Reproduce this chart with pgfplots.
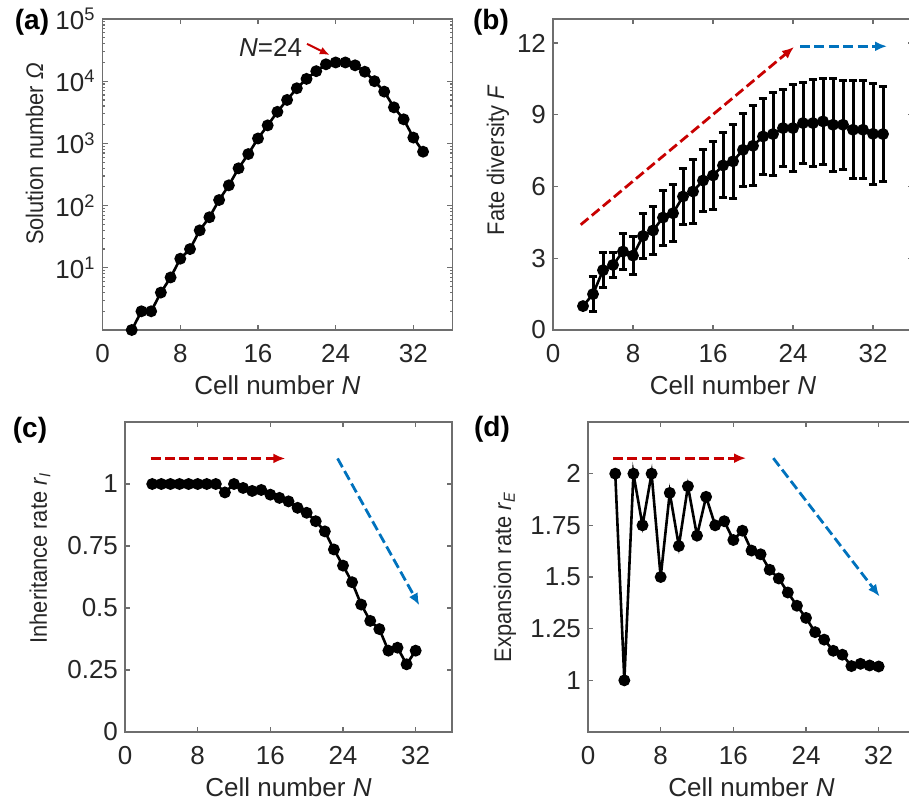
\documentclass[border=0pt]{standalone}
\usepackage{fontspec}
\setmainfont{Liberation Sans}
\usepackage{graphicx}
\usepackage{pgfplots}
\pgfplotsset{compat=1.18}
\usetikzlibrary{arrows.meta}

\definecolor{arrred}{RGB}{200,0,0}
\definecolor{arrblue}{RGB}{0,114,189}
\definecolor{axgray}{RGB}{110,110,110}
\definecolor{txtgray}{RGB}{38,38,38}

\newcommand{\ylab}[1]{\scalebox{0.91}[1]{#1}}

\pgfplotsset{
  panel/.style={
    scale only axis,
    xmin=0, xmax=36,
    xtick={0,8,16,24,32},
    tick align=inside,
    major tick length=2.5pt,
    minor tick length=1.3pt,
    axis line style={axgray, line width=0.6pt},
    every tick/.style={axgray, line width=0.6pt},
    tick label style={txtgray, font=\fontsize{13}{15}\selectfont},
    xlabel style={txtgray, font=\fontsize{13}{15}\selectfont},
    ylabel style={txtgray, font=\fontsize{12}{14}\selectfont},
    /pgf/number format/assume math mode=true,
    xlabel={Cell number \textit{N}},
    xlabel style={at={(axis description cs:0.5,0)}, anchor=base, yshift=-32pt},
    xticklabel style={anchor=base, yshift=-16.3pt},
    clip=false,
  },
  data/.style={black, line width=1.3pt, mark=*, mark size=2.3pt,
    mark options={solid, fill=black}},
  dash arrow/.style={line width=1.4pt, dash pattern=on 5pt off 2.2pt,
    -{Latex[length=6pt,width=5pt]}},
  every error bar/.append style={line width=1.5pt, black},
}

\begin{document}
\begin{tikzpicture}
\useasboundingbox (0,0) rectangle (454.5pt,-401pt);

% (a) solution number
\begin{axis}[panel,
  at={(51.3pt,-165pt)}, anchor=south west,
  width=174.8pt, height=155.5pt,
  ymode=log, ymin=1, ymax=100000,
  ytick={10,100,1000,10000,100000},
  yticklabels={10\textsuperscript{1},10\textsuperscript{2},10\textsuperscript{3},10\textsuperscript{4},10\textsuperscript{5}},
  minor ytick={2,3,4,5,6,7,8,9,20,30,40,50,60,70,80,90,200,300,400,500,600,700,800,900,2000,3000,4000,5000,6000,7000,8000,9000,20000,30000,40000,50000,60000,70000,80000,90000},
  ylabel={\ylab{Solution number \textit{Ω}}},
  ylabel style={at={(axis description cs:-0.195,0.566)}, anchor=center},
]
\addplot[data] coordinates {
(3,1) (4,2) (5,2) (6,4) (7,7) (8,14) (9,20) (10,40) (11,65) (12,123)
(13,212) (14,398) (15,674) (16,1200) (17,1950) (18,3220) (19,5000) (20,7700)
(21,10900) (22,14500) (23,18700) (24,20000) (25,20000) (26,18000) (27,14200)
(28,10000) (29,6800) (30,3800) (31,2440) (32,1240) (33,735)
};
\addplot[arrred, line width=1pt, -{Latex[length=5pt,width=4pt]}] coordinates {(21.05,39800) (23.4,26300)};
\node[txtgray, font=\fontsize{13}{15}\selectfont] at (axis cs:17.3,35500) {\textit{N}=24};
\end{axis}

% (b) fate diversity
\begin{axis}[panel,
  at={(276.5pt,-165pt)}, anchor=south west,
  width=180pt, height=155.5pt,
  ymin=0, ymax=13,
  ytick={0,3,6,9,12},
  ylabel={\ylab{Fate diversity \textit{F}}},
  ylabel style={at={(axis description cs:-0.153,0.547)}, anchor=center},
]
\addplot[arrred, dash arrow] coordinates {(2.77,4.4) (24.1,11.83)};
\addplot[arrblue, dash arrow] coordinates {(24.7,11.86) (33.4,11.86)};
\addplot[data, error bars/.cd, y dir=both, y explicit,
  error bar style={line width=1.5pt, black},
  error mark options={rotate=90, mark size=2.2pt, line width=1.5pt, black}]
  table[x=N, y=F, y error=E] {
N F E
3 1.0 0
4 1.5 0.73
5 2.5 0.72
6 2.72 0.52
7 3.28 0.77
8 3.11 0.78
9 3.93 0.94
10 4.16 1.0
11 4.70 1.15
12 4.88 1.2
13 5.58 1.17
14 5.79 1.35
15 6.25 1.29
16 6.46 1.42
17 6.88 1.36
18 7.05 1.55
19 7.53 1.52
20 7.70 1.67
21 8.09 1.57
22 8.19 1.72
23 8.44 1.6
24 8.44 1.81
25 8.65 1.69
26 8.65 1.83
27 8.72 1.79
28 8.58 1.94
29 8.58 1.87
30 8.37 2.05
31 8.37 2.05
32 8.20 2.1
33 8.19 2.0
};
\end{axis}

% (c) inheritance rate
\begin{axis}[panel,
  at={(62.5pt,-366pt)}, anchor=south west,
  width=163.5pt, height=155pt,
  ymin=0, ymax=1.25,
  ytick={0,0.25,0.5,0.75,1},
  yticklabels={0,0.25,0.5,0.75,1},
  ylabel={\ylab{Inheritance rate \textit{r}\textsubscript{\textit{I}}}},
  ylabel style={at={(axis description cs:-0.26,0.561)}, anchor=center},
]
\addplot[arrred, dash arrow] coordinates {(2.82,1.103) (17.65,1.103)};
\addplot[arrblue, dash arrow] coordinates {(23.4,1.103) (32.4,0.511)};
\addplot[data] coordinates {
(3,1) (4,1) (5,1) (6,1) (7,1) (8,1) (9,1) (10,1) (11,0.966) (12,1)
(13,0.984) (14,0.972) (15,0.976) (16,0.957) (17,0.944) (18,0.930) (19,0.904)
(20,0.884) (21,0.850) (22,0.809) (23,0.736) (24,0.671) (25,0.604) (26,0.514)
(27,0.448) (28,0.415) (29,0.328) (30,0.340) (31,0.273) (32,0.328)
};
\end{axis}

% (d) expansion rate
\begin{axis}[panel,
  at={(294pt,-366pt)}, anchor=south west,
  width=163.5pt, height=155pt,
  ymin=0.75, ymax=2.25,
  ytick={1,1.25,1.5,1.75,2},
  yticklabels={1,1.25,1.5,1.75,2},
  ylabel={\ylab{Expansion rate \textit{r}\textsubscript{\textit{E}}}},
  ylabel style={at={(axis description cs:-0.254,0.5)}, anchor=center},
]
\addplot[arrred, dash arrow] coordinates {(2.74,2.075) (17.4,2.075)};
\addplot[arrblue, dash arrow] coordinates {(20.4,2.075) (32.1,1.406)};
\addplot[data] coordinates {
(3,2) (4,1) (5,2) (6,1.75) (7,2) (8,1.5) (9,1.907) (10,1.65) (11,1.939)
(12,1.70) (13,1.888) (14,1.75) (15,1.77) (16,1.679) (17,1.724) (18,1.628)
(19,1.610) (20,1.535) (21,1.493) (22,1.425) (23,1.361) (24,1.302) (25,1.233)
(26,1.197) (27,1.143) (28,1.124) (29,1.069) (30,1.080) (31,1.072) (32,1.067)
};
\end{axis}

\node[font=\fontsize{14}{16}\bfseries\selectfont] at (16pt,-11pt) {(a)};
\node[font=\fontsize{14}{16}\bfseries\selectfont] at (245.5pt,-11pt) {(b)};
\node[font=\fontsize{14}{16}\bfseries\selectfont] at (15pt,-215pt) {(c)};
\node[font=\fontsize{14}{16}\bfseries\selectfont] at (246pt,-214.5pt) {(d)};
\end{tikzpicture}
\end{document}
